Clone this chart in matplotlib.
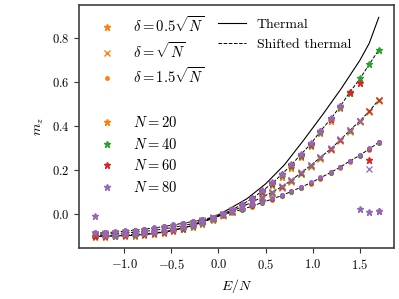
import numpy as np
from matplotlib import pyplot as plt
from matplotlib.lines import Line2D

# energy density grid
e_n = [-1.31, -1.20, -1.10, -0.99, -0.89, -0.79, -0.68, -0.58, -0.48, -0.38,
       -0.27, -0.17, -0.06, 0.05, 0.14, 0.25, 0.36, 0.46, 0.57, 0.67,
       0.77, 0.87, 0.98, 1.08, 1.19, 1.29, 1.39, 1.50, 1.60, 1.70]
nan = float('nan')

# delta = 0.5 sqrt(N)  (stars)
star_n20 = [-0.102, -0.102, -0.101, -0.099, -0.097, -0.094, -0.090, -0.085, -0.078, -0.069,
            -0.057, -0.043, -0.025, -0.005, 0.014, 0.037, 0.064, 0.095, 0.131, 0.170,
            0.212, 0.260, 0.310, 0.368, 0.426, 0.485, 0.550, nan, nan, nan]
star_n40 = [-0.099, -0.099, -0.098, -0.096, -0.094, -0.091, -0.087, -0.081, -0.074, -0.065,
            -0.053, -0.039, -0.021, -0.001, 0.018, 0.042, 0.069, 0.101, 0.138, 0.177,
            0.220, 0.267, 0.317, 0.374, 0.431, 0.488, 0.553, 0.618, 0.683, 0.747]
star_n60 = [-0.097, -0.097, -0.096, -0.094, -0.092, -0.089, -0.085, -0.079, -0.072, -0.063,
            -0.051, -0.037, -0.019, 0.001, 0.020, 0.044, 0.072, 0.104, 0.141, 0.181,
            0.223, 0.270, 0.320, 0.377, 0.433, 0.490, 0.555, 0.595, 0.246, 0.016]
star_n80 = [-0.010, -0.094, -0.093, -0.091, -0.089, -0.086, -0.082, -0.076, -0.069, -0.060,
            -0.048, -0.034, -0.017, 0.003, 0.022, 0.047, 0.075, 0.108, 0.145, 0.185,
            0.227, 0.274, 0.323, 0.380, 0.436, 0.492, nan, 0.025, 0.012, 0.016]

# delta = sqrt(N)  (crosses)
cross_n20 = [-0.096, -0.095, -0.093, -0.090, -0.087, -0.083, -0.078, -0.072, -0.065, -0.057,
             -0.047, -0.035, -0.020, -0.006, 0.009, 0.029, 0.050, 0.071, 0.094, 0.119,
             0.147, 0.181, 0.216, 0.252, 0.292, 0.333, 0.376, 0.420, 0.466, 0.517]
cross_n40 = [-0.093, -0.092, -0.090, -0.087, -0.084, -0.080, -0.075, -0.069, -0.062, -0.054,
             -0.044, -0.032, -0.018, -0.004, 0.012, 0.032, 0.054, 0.075, 0.098, 0.123,
             0.151, 0.185, 0.220, 0.256, 0.296, 0.336, 0.379, 0.423, 0.468, 0.520]
cross_n60 = [-0.090, -0.089, -0.087, -0.084, -0.081, -0.077, -0.072, -0.066, -0.059, -0.051,
             -0.041, -0.029, -0.015, -0.001, 0.015, 0.035, 0.057, 0.078, 0.101, 0.126,
             0.154, 0.188, 0.223, 0.258, 0.298, 0.338, 0.381, 0.424, 0.469, 0.520]
cross_n80 = [-0.088, -0.087, -0.085, -0.082, -0.079, -0.075, -0.070, -0.064, -0.057, -0.049,
             -0.039, -0.027, -0.013, 0.001, 0.017, 0.037, 0.059, 0.080, 0.103, 0.128,
             0.156, 0.190, 0.225, 0.260, 0.300, 0.340, 0.382, 0.425, 0.205, nan]

# delta = 1.5 sqrt(N)  (dots)
dot_n20 = [-0.090, -0.088, -0.085, -0.081, -0.077, -0.072, -0.066, -0.060, -0.053, -0.045,
           -0.037, -0.028, -0.018, -0.007, 0.005, 0.018, 0.033, 0.049, 0.065, 0.081,
           0.099, 0.118, 0.139, 0.161, 0.186, 0.210, 0.237, 0.264, 0.293, 0.323]
dot_n40 = [-0.087, -0.085, -0.082, -0.078, -0.074, -0.069, -0.063, -0.057, -0.050, -0.042,
           -0.034, -0.025, -0.015, -0.004, 0.008, 0.021, 0.036, 0.052, 0.068, 0.084,
           0.102, 0.121, 0.142, 0.164, 0.189, 0.213, 0.240, 0.267, 0.296, 0.326]
dot_n60 = [-0.085, -0.083, -0.080, -0.076, -0.072, -0.067, -0.061, -0.055, -0.048, -0.040,
           -0.032, -0.023, -0.013, -0.002, 0.010, 0.023, 0.038, 0.054, 0.070, 0.086,
           0.104, 0.123, 0.144, 0.166, 0.191, 0.215, 0.242, 0.269, 0.298, 0.328]
dot_n80 = [-0.083, -0.081, -0.078, -0.074, -0.070, -0.065, -0.059, -0.053, -0.046, -0.038,
           -0.030, -0.021, -0.011, 0.000, 0.012, 0.025, 0.040, 0.056, 0.072, 0.088,
           0.106, 0.125, 0.146, 0.168, 0.193, 0.217, 0.244, 0.271, 0.300, 0.330]

# thermal and shifted thermal curves
thermal_x = [-1.31, -1.1, -0.9, -0.7, -0.5, -0.3, -0.1, 0.0, 0.1, 0.3,
             0.5, 0.7, 0.9, 1.1, 1.3, 1.5, 1.6, 1.70]
thermal_y = [-0.101, -0.099, -0.096, -0.089, -0.076, -0.054, -0.022, -0.002, 0.021, 0.070,
             0.138, 0.225, 0.335, 0.450, 0.570, 0.700, 0.778, 0.895]
shifted_half = [-0.097, -0.097, -0.096, -0.094, -0.092, -0.089, -0.085, -0.079, -0.072, -0.063,
                -0.051, -0.037, -0.019, 0.001, 0.020, 0.044, 0.072, 0.104, 0.141, 0.181,
                0.223, 0.270, 0.320, 0.377, 0.433, 0.490, 0.553, 0.616, 0.682, 0.747]
shifted_one = [-0.091, -0.090, -0.088, -0.085, -0.082, -0.078, -0.073, -0.067, -0.060, -0.052,
               -0.042, -0.030, -0.016, -0.002, 0.014, 0.034, 0.056, 0.077, 0.100, 0.125,
               0.153, 0.187, 0.222, 0.258, 0.297, 0.337, 0.380, 0.424, 0.469, 0.520]
shifted_onehalf = [-0.086, -0.084, -0.081, -0.077, -0.073, -0.068, -0.062, -0.056, -0.049, -0.041,
                   -0.033, -0.024, -0.014, -0.003, 0.009, 0.022, 0.037, 0.053, 0.069, 0.085,
                   0.103, 0.122, 0.143, 0.165, 0.190, 0.214, 0.241, 0.268, 0.297, 0.327]

sizes = [20, 40, 60, 80]
colors = ['C1', 'C2', 'C3', 'C4']


def setStyle():
    plt.rcParams['font.family'] = 'serif'
    plt.rcParams['font.serif'] = ['cmr10']
    plt.rcParams['mathtext.fontset'] = 'cm'
    plt.rcParams['axes.formatter.use_mathtext'] = True
    plt.rcParams['axes.unicode_minus'] = True


def makePlot():
    fig = plt.figure(figsize = (3.99, 2.99), dpi = 100)
    ax = fig.add_axes([0.198, 0.171, 0.789, 0.812])
    # shifted thermal curves first, markers on top
    ax.plot(e_n, shifted_half, color = 'k', ls = '--', lw = 0.7)
    ax.plot(e_n, shifted_one, color = 'k', ls = '--', lw = 0.7)
    ax.plot(e_n, shifted_onehalf, color = 'k', ls = '--', lw = 0.7)
    ax.plot(thermal_x, thermal_y, color = 'k', lw = 0.8)
    stars = [star_n20, star_n40, star_n60, star_n80]
    crosses = [cross_n20, cross_n40, cross_n60, cross_n80]
    dots = [dot_n20, dot_n40, dot_n60, dot_n80]
    for i in range(len(sizes)):
        ax.plot(e_n, stars[i], ls = 'none', marker = '*', ms = 5, color = colors[i])
        ax.plot(e_n, crosses[i], ls = 'none', marker = 'x', ms = 4, mew = 0.9, color = colors[i])
        ax.plot(e_n, dots[i], ls = 'none', marker = '.', ms = 5, color = colors[i])
    ax.set_xlim(-1.48, 1.86)
    ax.set_ylim(-0.153, 0.951)
    ax.set_xticks([-1.0, -0.5, 0.0, 0.5, 1.0, 1.5])
    ax.set_yticks([0.0, 0.2, 0.4, 0.6, 0.8])
    ax.tick_params(labelsize = 9, color = '0.2')
    for sp in ax.spines.values():
        sp.set_linewidth(1.2)
        sp.set_color('0.25')
    ax.set_xlabel(r'$E/N$', fontsize = 10)
    ax.set_ylabel(r'$m_z$', fontsize = 10)
    # legend for delta markers
    handles = [Line2D([], [], ls = 'none', marker = '*', ms = 5, color = 'C1'),
               Line2D([], [], ls = 'none', marker = 'x', ms = 4, color = 'C1'),
               Line2D([], [], ls = 'none', marker = '.', ms = 5, color = 'C1')]
    labels = [r'$\delta=0.5\sqrt{N}$', r'$\delta=\sqrt{N}$', r'$\delta=1.5\sqrt{N}$']
    leg1 = ax.legend(handles, labels, loc = 'upper left', bbox_to_anchor = (0, 1.012),
                     frameon = False, fontsize = 10.5, labelspacing = 0.38)
    ax.add_artist(leg1)
    # legend for system sizes
    handles = []
    labels = []
    for i in range(len(sizes)):
        handles.append(Line2D([], [], ls = 'none', marker = '*', ms = 5, color = colors[i]))
        labels.append(r'$N=' + str(sizes[i]) + '$')
    leg2 = ax.legend(handles, labels, loc = 'upper left', bbox_to_anchor = (0, 0.60),
                     frameon = False, fontsize = 10.5, labelspacing = 0.45)
    ax.add_artist(leg2)
    lines = [Line2D([], [], color = 'k', lw = 0.8),
             Line2D([], [], color = 'k', ls = '--', lw = 0.7)]
    ax.legend(lines, ['Thermal', 'Shifted thermal'], loc = 'upper left',
              bbox_to_anchor = (0.424, 0.968), borderaxespad = 0,
              frameon = False, fontsize = 10)
    fig.savefig('out.png', dpi = 100)
    plt.close(fig)


def main():
    setStyle()
    makePlot()


if __name__ == '__main__':
    main()
